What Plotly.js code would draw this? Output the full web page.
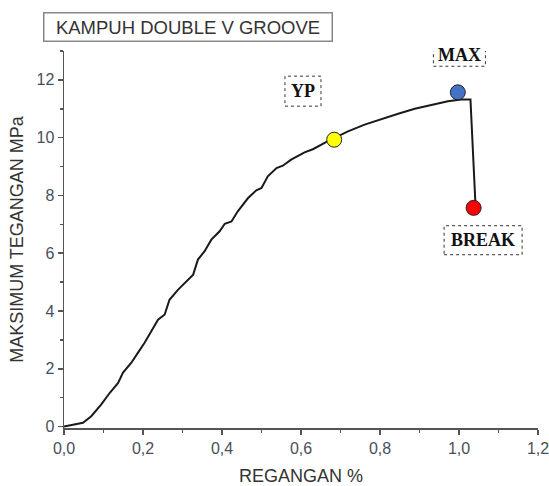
<!DOCTYPE html>
<html>
<head>
<meta charset="utf-8">
<script src="https://cdn.plot.ly/plotly-3.0.1.min.js"></script>
<style>html,body{margin:0;padding:0;background:#fff;}#chart{width:549px;height:486px;}</style>
</head>
<body>
<div id="chart"></div>
<script>
// Strain (%) and stress (MPa)
const strain = [0, 0.02, 0.048, 0.069, 0.094, 0.116, 0.137, 0.149, 0.170, 0.187, 0.204, 0.221, 0.238, 0.255, 0.267, 0.289, 0.310, 0.327, 0.339, 0.356, 0.373, 0.394, 0.407, 0.424, 0.440, 0.466, 0.487, 0.500, 0.516, 0.538, 0.554, 0.575, 0.609, 0.630, 0.668, 0.719, 0.761, 0.803, 0.846, 0.888, 0.930, 0.972, 1.006, 1.029, 1.042];
const stress = [0, 0.05, 0.13, 0.36, 0.76, 1.17, 1.51, 1.86, 2.20, 2.55, 2.90, 3.30, 3.70, 3.88, 4.39, 4.74, 5.03, 5.26, 5.78, 6.07, 6.47, 6.76, 7.02, 7.10, 7.45, 7.91, 8.18, 8.26, 8.66, 8.95, 9.03, 9.24, 9.49, 9.60, 9.88, 10.22, 10.45, 10.65, 10.83, 11.00, 11.14, 11.26, 11.32, 11.32, 7.6];

// Marked points
const pointNames = ["YP", "MAX", "BREAK"];
const pointX = [0.684, 0.997, 1.037];
const pointY = [9.93, 11.57, 7.57];
const pointColors = ["#FFFF00", "#4472C4", "#FF0000"];

// Label positions for the marked points
const labelX = [0.605, 1.001, 1.061];
const labelY = [11.61, 12.87, 6.45];
const labelBoxW = [36, 52, 78];
const labelBoxH = [30, 23, 29];

const xTicks = [0, 0.2, 0.4, 0.6, 0.8, 1.0, 1.2];
const yTicks = [0, 2, 4, 6, 8, 10, 12];

const traces = [
  {x: strain, y: stress, mode: "lines", type: "scatter",
   line: {color: "#1a1a1a", width: 2}, hoverinfo: "skip", showlegend: false},
  {x: pointX, y: pointY, mode: "markers", type: "scatter",
   marker: {size: 15, color: pointColors, line: {color: "#222", width: 1}},
   showlegend: false, text: pointNames}
];

const annotations = pointNames.map((n, i) => ({
  x: labelX[i], y: labelY[i], xref: "x", yref: "y", text: "<b>" + n + "</b>",
  showarrow: false, font: {family: "Liberation Serif, Times New Roman, serif", size: 18, color: "#111"}
}));
annotations.push({
  x: (43 - 64) / 474, y: (428 - 12) / 377, xref: "paper", yref: "paper",
  xanchor: "left", yanchor: "top", text: "KAMPUH DOUBLE V GROOVE", showarrow: false,
  font: {family: "Liberation Sans, Arial, sans-serif", size: 18.5, color: "#333"},
  bordercolor: "#888", borderwidth: 1.5, borderpad: 2, width: 283, height: 23, bgcolor: "#fff"
});

const shapes = pointNames.map((n, i) => ({
  type: "rect", xref: "x", yref: "y", xsizemode: "pixel", ysizemode: "pixel",
  xanchor: labelX[i], yanchor: labelY[i],
  x0: -labelBoxW[i] / 2, x1: labelBoxW[i] / 2, y0: -labelBoxH[i] / 2, y1: labelBoxH[i] / 2,
  line: {color: "#333", width: 1, dash: "dot"}
}));

const axisFont = {family: "Liberation Sans, Arial, sans-serif", size: 16, color: "#4a4f5a"};
const titleFont = {family: "Liberation Sans, Arial, sans-serif", size: 18, color: "#333"};
const layout = {
  width: 549, height: 486,
  margin: {l: 64, r: 11, t: 51, b: 58},
  paper_bgcolor: "#fff", plot_bgcolor: "#fff",
  separators: ",.",
  showlegend: false,
  xaxis: {
    range: [0, 1.2], tickvals: xTicks, tickformat: ".1f", ticklabeloverflow: "allow",
    showgrid: false, zeroline: false, showline: true, linecolor: "#555", linewidth: 1.5,
    ticks: "outside", ticklen: 5, tickwidth: 1.5, tickcolor: "#555", tickfont: axisFont,
    minor: {dtick: 0.1, tick0: 0, ticks: "outside", ticklen: 3, tickcolor: "#555", tickwidth: 1.5, showgrid: false},
    title: {text: "REGANGAN %", font: titleFont, standoff: 14}
  },
  yaxis: {
    range: [-0.05, 13], tickvals: yTicks, ticklabeloverflow: "allow",
    showgrid: false, zeroline: false, showline: true, linecolor: "#555", linewidth: 1.5,
    ticks: "outside", ticklen: 5, tickwidth: 1.5, tickcolor: "#555", tickfont: axisFont,
    minor: {dtick: 1, tick0: 0, ticks: "outside", ticklen: 3, tickcolor: "#555", tickwidth: 1.5, showgrid: false},
    title: {text: "MAKSIMUM TEGANGAN MPa", font: titleFont, standoff: 8}
  },
  annotations: annotations,
  shapes: shapes
};

Plotly.newPlot("chart", traces, layout, {displayModeBar: false, staticPlot: true});
</script>
</body>
</html>
